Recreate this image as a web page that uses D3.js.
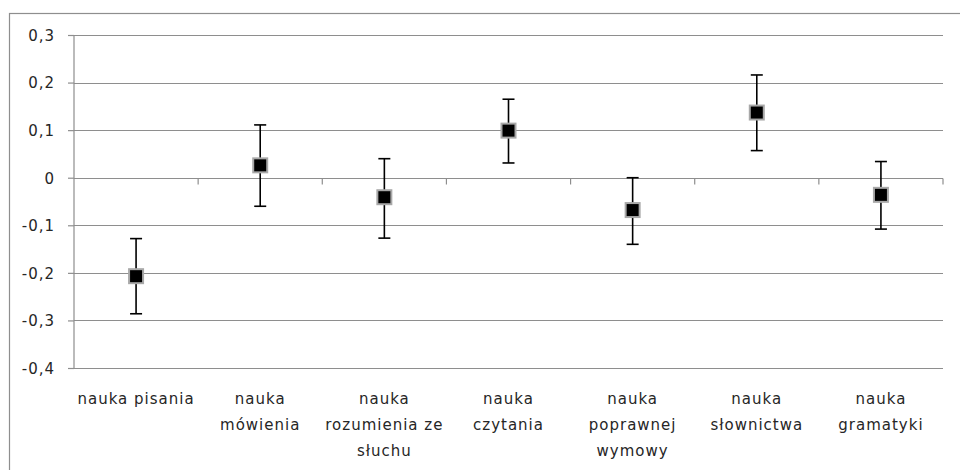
<!DOCTYPE html>
<html lang="pl">
<head>
  <meta charset="UTF-8">
  <title>Error bar chart</title>
  <style>
    body {
      margin: 0;
      padding: 0;
      background: #fff;
      font-family: 'DejaVu Sans', sans-serif;
    }
    svg {
      display: block;
    }
    .grid line {
      stroke: #8e8e8e;
      stroke-width: 1.2px;
    }
    .axis path, .axis line {
      stroke: #8e8e8e;
      stroke-width: 1.2px;
    }
    .axis text, .cat-label {
      font-family: 'DejaVu Sans', sans-serif;
      font-size: 15px;
      fill: #262626;
      letter-spacing: 1px;
    }
    .err {
      stroke: #000;
      stroke-width: 1.6px;
    }
    .marker {
      fill: #000;
      stroke: #a8a8a8;
      stroke-width: 2px;
    }
  </style>
</head>
<body>
  <svg width="960" height="470"></svg>

  <script src="https://d3js.org/d3.v7.min.js"></script>
  <script>
    // categories, one entry per column, split into the lines shown under the axis
    const categories = [
      "nauka pisania",
      "nauka mówienia",
      "nauka rozumienia ze słuchu",
      "nauka czytania",
      "nauka poprawnej wymowy",
      "nauka słownictwa",
      "nauka gramatyki"
    ];
    const labelLines = [
      ["nauka pisania"],
      ["nauka", "mówienia"],
      ["nauka", "rozumienia ze", "słuchu"],
      ["nauka", "czytania"],
      ["nauka", "poprawnej", "wymowy"],
      ["nauka", "słownictwa"],
      ["nauka", "gramatyki"]
    ];
    const means = [-0.207, 0.026, -0.041, 0.099, -0.068, 0.137, -0.036];
    const upper = [-0.128, 0.111, 0.040, 0.165, 0.000, 0.216, 0.034];
    const lower = [-0.286, -0.060, -0.127, 0.031, -0.140, 0.057, -0.108];
    const yTicks = [-0.4, -0.3, -0.2, -0.1, 0, 0.1, 0.2, 0.3];

    const svg = d3.select("svg");

    // outer chart frame (runs off the right and bottom of the picture)
    svg.append("rect")
      .attr("x", 9.5).attr("y", 13.5)
      .attr("width", 1000).attr("height", 1000)
      .attr("fill", "none")
      .attr("stroke", "#8e8e8e")
      .attr("stroke-width", 1.2);

    const plotLeft = 74, plotRight = 943, plotTop = 35, plotBottom = 368;

    const x = d3.scaleBand()
      .domain(categories)
      .range([plotLeft, plotRight])
      .padding(0);

    const y = d3.scaleLinear()
      .domain([-0.4, 0.3])
      .range([plotBottom, plotTop]);

    const fmt = v => v === 0 ? "0" : d3.format(".1f")(v).replace(".", ",").replace("−", "-");

    // horizontal gridlines
    svg.append("g")
      .attr("class", "grid")
      .selectAll("line")
      .data(yTicks.filter(v => v !== 0))
      .enter().append("line")
      .attr("x1", plotLeft).attr("x2", plotRight)
      .attr("y1", d => Math.round(y(d)) + 0.5)
      .attr("y2", d => Math.round(y(d)) + 0.5);

    // y axis
    const yAxis = svg.append("g")
      .attr("class", "axis")
      .attr("transform", `translate(${plotLeft},0)`)
      .call(d3.axisLeft(y).tickValues(yTicks).tickFormat(fmt).tickSize(6).tickPadding(13));
    yAxis.select(".domain").attr("d", `M0,${plotTop}V${plotBottom}`);
    yAxis.selectAll(".tick text").attr("dy", "0.36em");

    // x axis sitting on zero, ticks at category boundaries
    const bounds = categories.map(c => x(c)).concat([plotRight]);
    const xAxis = svg.append("g")
      .attr("class", "axis")
      .attr("transform", `translate(0,${Math.round(y(0)) + 0.5})`);
    xAxis.append("line")
      .attr("x1", plotLeft).attr("x2", plotRight)
      .attr("y1", 0).attr("y2", 0);
    xAxis.selectAll(".xt")
      .data(bounds.slice(1))
      .enter().append("line")
      .attr("class", "xt")
      .attr("x1", d => d).attr("x2", d => d)
      .attr("y1", 0).attr("y2", 6);

    // category labels
    const labels = svg.append("g")
      .selectAll("text")
      .data(categories)
      .enter().append("text")
      .attr("class", "cat-label")
      .attr("text-anchor", "middle")
      .attr("x", d => x(d) + x.bandwidth() / 2)
      .attr("y", 404);
    labels.each(function(d, i) {
      const t = d3.select(this);
      labelLines[i].forEach((line, j) => {
        t.append("tspan")
          .attr("x", x(d) + x.bandwidth() / 2)
          .attr("dy", j === 0 ? 0 : 26)
          .text(line);
      });
    });

    // error bars
    const cx = d => x(d) + x.bandwidth() / 2;
    const capW = 6;
    const err = svg.append("g").selectAll("g")
      .data(categories)
      .enter().append("g")
      .attr("class", "err");
    err.append("line")
      .attr("x1", cx).attr("x2", cx)
      .attr("y1", (d, i) => y(upper[i]))
      .attr("y2", (d, i) => y(lower[i]));
    err.append("line")
      .attr("x1", d => cx(d) - capW).attr("x2", d => cx(d) + capW)
      .attr("y1", (d, i) => y(upper[i]))
      .attr("y2", (d, i) => y(upper[i]));
    err.append("line")
      .attr("x1", d => cx(d) - capW).attr("x2", d => cx(d) + capW)
      .attr("y1", (d, i) => y(lower[i]))
      .attr("y2", (d, i) => y(lower[i]));

    // square markers
    const size = 14;
    svg.append("g").selectAll("rect")
      .data(categories)
      .enter().append("rect")
      .attr("class", "marker")
      .attr("x", d => cx(d) - size / 2)
      .attr("y", (d, i) => y(means[i]) - size / 2)
      .attr("width", size)
      .attr("height", size);
  </script>
</body>
</html>
